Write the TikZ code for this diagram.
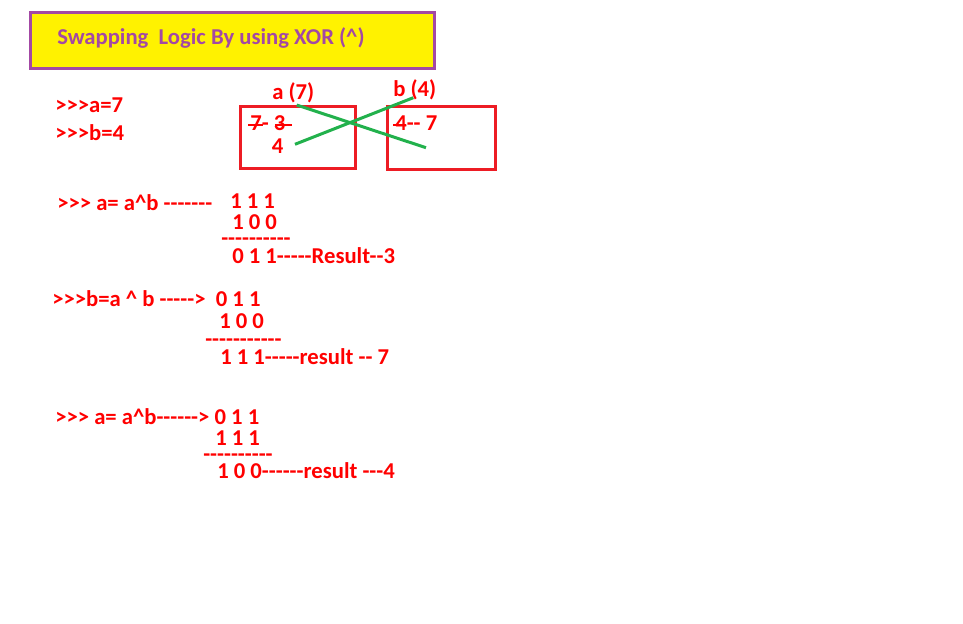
\documentclass[tikz,border=0pt]{standalone}
\usepackage{fontspec}
\setmainfont{Carlito}[Ligatures=TeXOff]
\definecolor{tred}{RGB}{255,0,0}
\definecolor{bred}{RGB}{237,28,36}
\definecolor{pgreen}{RGB}{34,177,76}
\definecolor{ppurple}{RGB}{163,73,164}
\definecolor{pyellow}{RGB}{255,242,0}
\begin{document}
\begin{tikzpicture}[x=0.75pt,y=-0.75pt,
  txt/.style={anchor=base west,inner sep=0pt,text=tred,font=\bfseries\fontsize{17}{19}\selectfont},
  digits/.style={txt,text height=0.63em,text depth=0pt},
  dashrow/.style={txt,text height=0.33em,text depth=-0.2em},
  ttl/.style={anchor=base west,inner sep=0pt,text=ppurple,font=\bfseries\fontsize{17}{19}\selectfont},
  varbox/.style={draw=bred,line width=2.25pt},
  swapline/.style={draw=pgreen,line width=2.25pt},
  strike/.style={draw=tred,line width=1pt}]
\useasboundingbox (0,0) rectangle (963,624);
\fill[white] (0,0) rectangle (963,624);
% title
\draw[draw=ppurple,fill=pyellow,line width=2.25pt] (30.5,12.5) rectangle (434,68.5);
\node[ttl] (title) at (57,45) {Swapping\ \ Logic By using XOR (\textasciicircum)};
% initial values
\node[txt] (a7) at (55,113) {>>>a=7};
\node[txt] (b4) at (55,141) {>>>b=4};
% boxes
\node[txt] (la) at (272,100) {a (7)};
\node[txt] (lb) at (393,96.5) {b (4)};
\draw[varbox] (240.5,106.5) rectangle (355.5,168.5);
\draw[varbox] (387.5,106.5) rectangle (495.5,169.5);
\node[digits] (av) at (250,131) {7- 3};
\node[digits] (av2) at (271.5,154) {4};
\node[digits] (bv) at (395,131) {4-- 7};
\draw[strike] (248,125) -- (263,125);
\draw[strike] (275,125) -- (292,125);
\draw[strike] (393,125) -- (406,125);
\draw[swapline] (296.7,105) -- (426,147.7);
\draw[swapline] (295,144.3) -- (413.3,97.7);
% step 1
\node[txt] (s1) at (57,210.5) {>>> a= a\textasciicircum b -------};
\node[digits] (s1r1) at (230,208.5) {1 1 1};
\node[digits] (s1r2) at (232,229.5) {1 0 0};
\node[dashrow] (s1d) at (221,245.5) {----------};
\node[digits] (s1r3) at (232,263) {0 1 1-----Result--3};
% step 2
\node[txt] (s2) at (52,306.5) {>>>b=a \textasciicircum\ b -----> \ 0 1 1};
\node[digits] (s2r2) at (219,328.5) {1 0 0};
\node[dashrow] (s2d) at (205,346) {-----------};
\node[digits] (s2r3) at (220,364) {1 1 1-----result -- 7};
% step 3
\node[txt] (s3) at (55,424.5) {>>> a= a\textasciicircum b------> 0 1 1};
\node[digits] (s3r2) at (215,445.5) {1 1 1};
\node[dashrow] (s3d) at (203,461) {----------};
\node[digits] (s3r3) at (217,478) {1 0 0------result ---4};
\end{tikzpicture}
\end{document}
